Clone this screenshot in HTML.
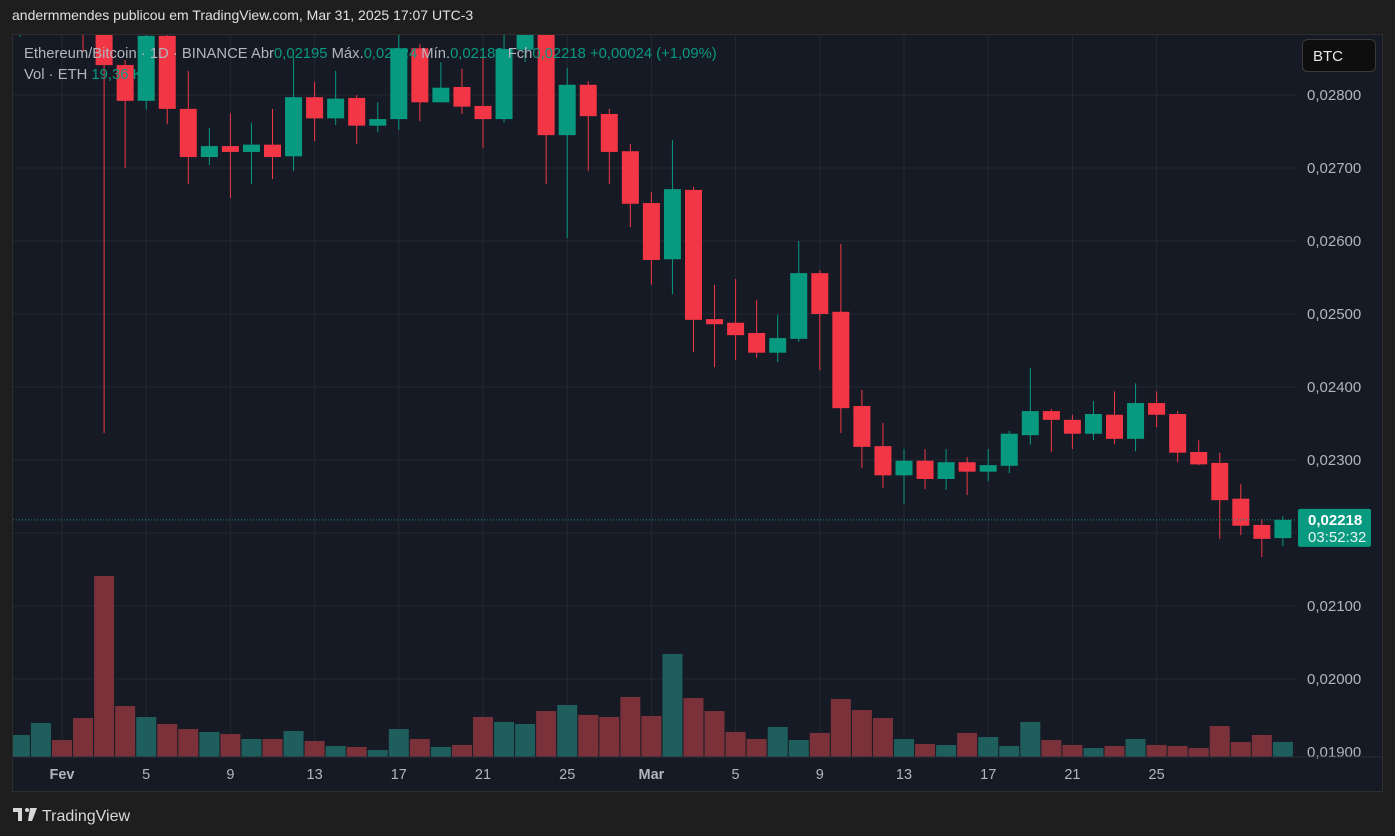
<!DOCTYPE html>
<html><head><meta charset="utf-8"><style>
body{margin:0;background:#1e1e1e;width:1395px;height:836px;overflow:hidden;font-family:"Liberation Sans",sans-serif}
svg{position:absolute;left:0;top:0}
</style></head><body>
<svg width="1395" height="836">
<text x="12" y="20" fill="#e0e0e0" font-size="14">andermmendes publicou em TradingView.com, Mar 31, 2025 17:07 UTC-3</text>
<rect x="12.5" y="34.5" width="1370" height="757" fill="#161a25" stroke="#2e2e2e"/>
<g id="grid"></g>
<g id="vol"></g>
<g id="candles"></g>
<g id="yaxis"></g>
<g id="xaxis"></g>
<line x1="12" y1="757" x2="1382" y2="757" stroke="#2a2e39"/>
<text x="24" y="58" font-size="14.8" fill="#b2b5be">Ethereum/Bitcoin · 1D · BINANCE  Abr<tspan fill="#089981">0,02195</tspan>  Máx.<tspan fill="#089981">0,02224</tspan>  Mín.<tspan fill="#089981">0,02188</tspan>  Fch<tspan fill="#089981">0,02218  +0,00024 (+1,09%)</tspan></text>
<text x="24" y="79" font-size="14.8" fill="#b2b5be">Vol · ETH  <tspan fill="#089981">19,36 K</tspan></text>
<rect x="1302.5" y="39.5" width="73" height="32" rx="5" fill="#0e0e0e" stroke="#3a3a3a"/>
<text x="1313" y="61" font-size="15" fill="#e8e8e8">BTC</text>
<g>
<path d="M13 808h9v13h-4v-9h-5z" fill="#d8d8d8"/>
<circle cx="27" cy="810" r="2" fill="#d8d8d8"/>
<path d="M30 808h7l-5 13h-4z" fill="#d8d8d8"/>
<text x="42" y="821" font-size="16" fill="#d8d8d8">TradingView</text>
</g>
</svg>
<script>
const days=[-2,-1,0,1,2,3,4,5,6,7,8,9,10,11,12,13,14,15,16,17,18,19,20,21,22,23,24,25,26,27,28,29,30,31,32,33,34,35,36,37,38,39,40,41,42,43,44,45,46,47,48,49,50,51,52,53,54,55,56,57,58];
const opens=[2900,2950,2990,2920,2885,2841,2792,2881,2781,2715,2730,2722,2732,2716,2797,2768,2796,2758,2767,2864,2790,2811,2785,2767,2862,2895,2745,2814,2774,2723,2652,2575,2670,2493,2488,2474,2447,2466,2556,2503,2374,2319,2279,2299,2274,2297,2284,2292,2334,2367,2355,2336,2362,2329,2378,2363,2311,2296,2247,2211,2193];
const highs=[2980,3000,3000,2940,2890,2848,2900,2900,2833,2755,2775,2762,2781,2852,2818,2833,2800,2790,2884,2870,2845,2836,2862,2884,2889,2900,2837,2819,2781,2733,2667,2738,2674,2540,2548,2519,2499,2600,2560,2596,2396,2351,2315,2315,2315,2304,2315,2340,2426,2370,2362,2381,2394,2405,2394,2367,2327,2310,2267,2219,2223];
const lows=[2880,2920,2900,2859,2337,2700,2780,2760,2678,2704,2659,2678,2685,2696,2737,2759,2733,2749,2752,2764,2790,2774,2727,2762,2845,2678,2604,2696,2678,2619,2540,2527,2448,2427,2437,2440,2434,2462,2423,2337,2289,2262,2240,2260,2259,2252,2271,2282,2321,2311,2315,2327,2322,2312,2345,2297,2293,2192,2197,2167,2182];
const closes=[2950,2990,2920,2885,2841,2792,2881,2781,2715,2730,2722,2732,2715,2797,2768,2795,2758,2767,2864,2790,2810,2784,2767,2863,2895,2745,2814,2771,2722,2651,2574,2671,2492,2486,2471,2447,2467,2556,2500,2371,2318,2279,2299,2274,2297,2284,2293,2336,2367,2355,2336,2363,2329,2378,2362,2310,2294,2245,2210,2192,2218];
const volumesK=[28.4,43.9,21.9,50.3,233.5,65.8,51.6,42.6,36.1,32.3,29.7,23.2,23.2,33.5,20.6,14.2,12.9,9.0,36.1,23.2,12.9,15.5,51.6,45.2,42.6,59.3,67.1,54.2,51.6,77.4,52.9,132.9,76.1,59.3,32.3,23.2,38.7,21.9,31.0,74.8,60.6,50.3,23.2,16.8,15.5,31.0,25.8,14.2,45.2,21.9,15.5,11.6,14.2,23.2,15.5,14.2,11.6,40.0,19.4,28.4,19.4];
const priceTicks=[2800,2700,2600,2500,2400,2300,2100,2000,1900];
const timeTicks=[[0,"Fev"],[4,"5"],[8,"9"],[12,"13"],[16,"17"],[20,"21"],[24,"25"],[28,"Mar"],[32,"5"],[36,"9"],[40,"13"],[44,"17"],[48,"21"],[52,"25"]];
const lastPrice=2218;
const NS="http://www.w3.org/2000/svg";
const X=d=>62+21.05*d;
const Y=p=>95+(2800-p)*0.73;
const V=v=>757-v/1.29;
function mk(tag,attrs,parent){const e=document.createElementNS(NS,tag);for(const k in attrs)e.setAttribute(k,attrs[k]);parent.appendChild(e);return e;}
const grid=document.getElementById('grid'),vol=document.getElementById('vol'),cg=document.getElementById('candles'),ya=document.getElementById('yaxis'),xa=document.getElementById('xaxis');
[...priceTicks,2200].forEach(p=>{const l=mk('line',{x1:13,x2:1297,y1:Y(p),y2:Y(p),stroke:'#242833'},grid);});
timeTicks.forEach(t=>{const l=mk('line',{x1:X(t[0]),x2:X(t[0]),y1:35,y2:757,stroke:'#242833'},grid);});
const clip=mk('clipPath',{id:'pc'},document.querySelector('svg'));mk('rect',{x:13,y:35,width:1284,height:722},clip);
vol.setAttribute('clip-path','url(#pc)');cg.setAttribute('clip-path','url(#pc)');
days.forEach((d,i)=>{
 const up=closes[i]>=opens[i];
 const vb=mk('rect',{x:X(d)-10,y:V(volumesK[i]),width:20,height:757-V(volumesK[i]),fill:up?'#1e5e5c':'#7b3139'},vol);
 
 
 const col=up?'#089981':'#f23645';
 const w=mk('line',{x1:X(d),x2:X(d),y1:Y(highs[i]),y2:Y(lows[i]),stroke:col,'stroke-width':1},cg);
 
 
 const t=Y(Math.max(opens[i],closes[i])),b=Y(Math.min(opens[i],closes[i]));
 const r=mk('rect',{x:X(d)-8.5,y:t,width:17,height:Math.max(1,b-t),fill:col},cg);
 
 
});
const ll=mk('line',{x1:13,x2:1297,y1:Y(lastPrice),y2:Y(lastPrice),stroke:'#089981','stroke-dasharray':'1 2'},cg);


priceTicks.forEach(p=>{const s=(p/100000).toFixed(5).replace('.',',');const t=mk('text',{x:1307,y:Y(p)+5,fill:'#b2b5be','font-size':15},ya);t.textContent=s;});
const lb=mk('rect',{x:1298,y:Y(lastPrice)-11,width:73,height:38,rx:2,fill:'#089981'},ya);


const t1=mk('text',{x:1308,y:Y(lastPrice)+5,fill:'#fff','font-size':15,'font-weight':'bold'},ya);t1.textContent=(lastPrice/100000).toFixed(5).replace('.',',');


const t2=mk('text',{x:1308,y:Y(lastPrice)+22,fill:'#e6f4f1','font-size':15},ya);t2.textContent='03:52:32';


timeTicks.forEach(t=>{const e=mk('text',{x:X(t[0]),y:779,fill:'#b2b5be','font-size':14.5,'text-anchor':'middle','font-weight':t[1]=='Fev'||t[1]=='Mar'?'bold':'normal'},xa);e.textContent=t[1];});
</script>
</body></html>
